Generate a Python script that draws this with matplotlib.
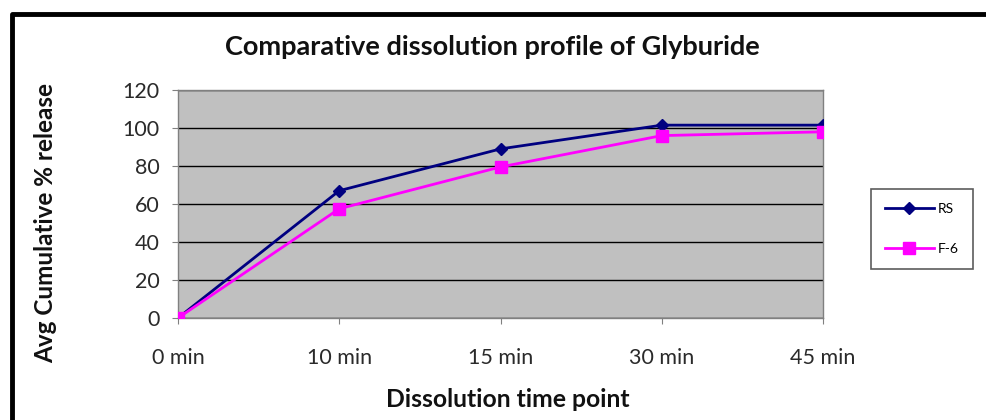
import matplotlib
matplotlib.use("Agg")
import matplotlib.pyplot as plt
from matplotlib.lines import Line2D

categories = ["0 min", "10 min", "15 min", "30 min", "45 min"]
rs_values = [0, 67, 89, 101.5, 101.5]
f6_values = [0, 57.5, 79.5, 96, 98]
yticks = [0, 20, 40, 60, 80, 100, 120]

plt.rcParams['font.family'] = ['Lato', 'DejaVu Sans']

fig = plt.figure(figsize=(9.86, 4.2), dpi=100)
ax = fig.add_axes([178/986, 1-318/420, (823-178)/986, (318-90)/420])
ax.set_facecolor("#C0C0C0")

x = list(range(len(categories)))
ax.plot(x, rs_values, color="#000080", marker="D", markersize=6, lw=2, label="RS", zorder=3)
ax.plot(x, f6_values, color="#FF00FF", marker="s", markersize=8, lw=2, label="F-6", zorder=3)

ax.set_xlim(0, len(categories) - 1)
ax.set_ylim(0, 120)
ax.set_yticks(yticks)
ax.set_xticks(x)
ax.set_xticklabels(categories)
ax.yaxis.grid(True, color="black", lw=1)
ax.set_axisbelow(True)
for s in ax.spines.values():
    s.set_color("#808080")
    s.set_linewidth(1)
ax.tick_params(axis="both", labelsize=15.5, colors="#808080", labelcolor="#2a2a2a", direction="out", length=4.5)
ax.tick_params(axis="x", pad=17)
ax.tick_params(axis="y", pad=9)

fig.text(492/986, 1-47/420, "Comparative dissolution profile of Glyburide", fontsize=19.5,
         fontweight="bold", ha="center", va="center", color="#111111")
ax.set_xlabel("Dissolution time point", fontsize=17.8, fontweight="bold", color="#111111")
ax.xaxis.set_label_coords((508-178)/645, (318-388)/228)
ax.set_ylabel("Avg Cumulative % release", fontsize=17.5, fontweight="bold", color="#111111")
ax.yaxis.set_label_coords((57-178)/645, (318-223)/228)

leg = ax.legend(loc="upper left", bbox_to_anchor=(871/986, 1-189/420), bbox_transform=fig.transFigure,
                frameon=True, fancybox=False, edgecolor="#333333", fontsize=10, labelspacing=2.0,
                handlelength=3.5, borderpad=1.0, handletextpad=0.3, borderaxespad=0)
leg.get_frame().set_linewidth(1.2)

# outer border
fig.add_artist(Line2D([12/986, 12/986, 1.01], [-0.01, 1-14/420, 1-14/420], color="black", lw=3.5,
                      transform=fig.transFigure))

fig.savefig("out.png", dpi=100, facecolor="white")
